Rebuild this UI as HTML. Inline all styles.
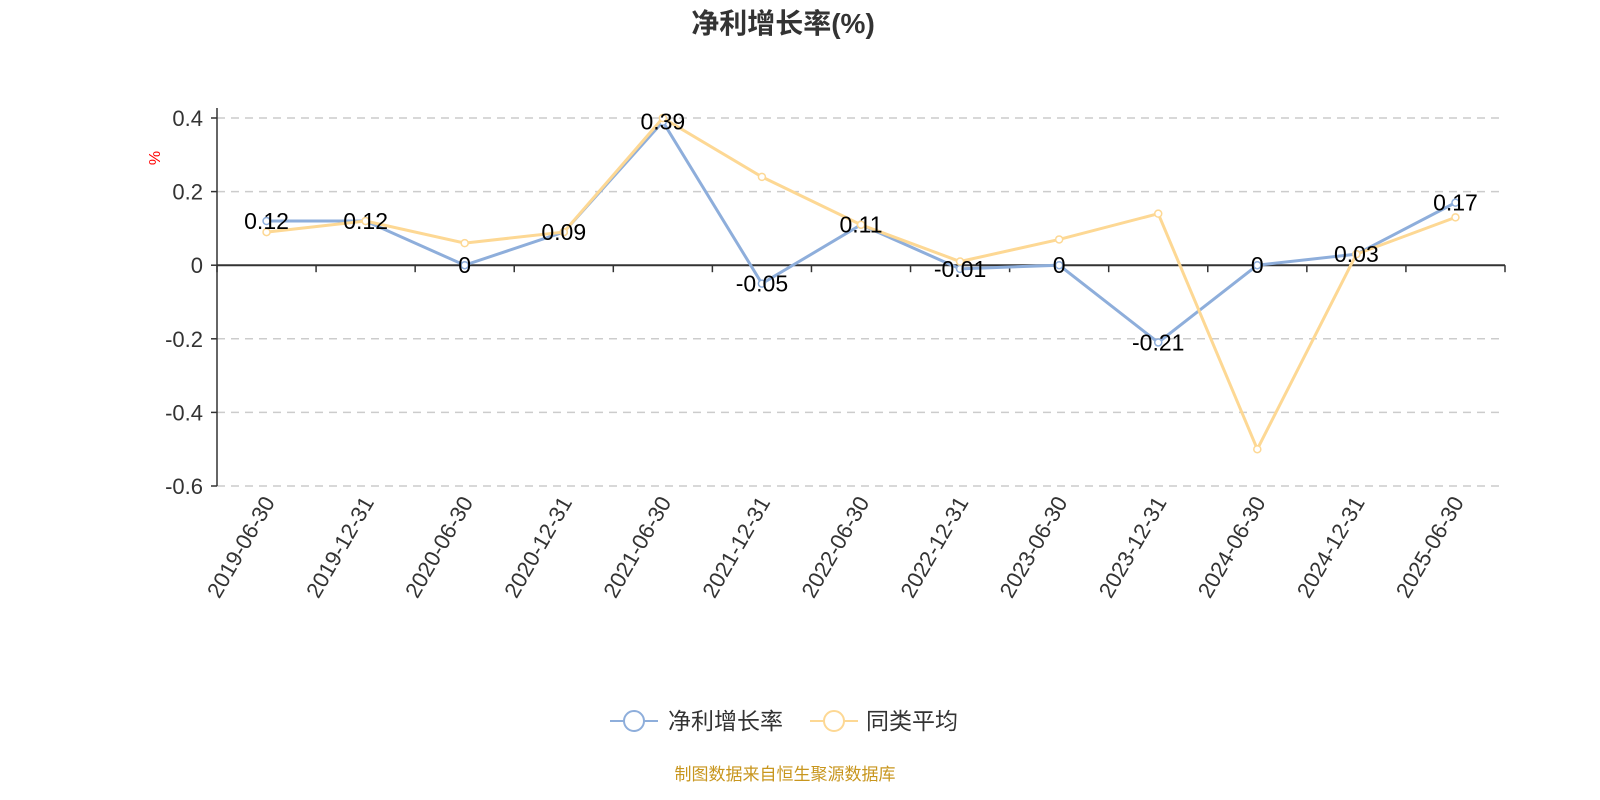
<!DOCTYPE html>
<html><head><meta charset="utf-8"><style>
html,body{margin:0;padding:0;background:#fff;}
svg{display:block;font-family:"Liberation Sans","Noto Sans CJK SC",sans-serif;}
</style></head><body>
<svg id="chart" width="1600" height="800" viewBox="0 0 1600 800" xmlns="http://www.w3.org/2000/svg">
<text x="783" y="33" text-anchor="middle" font-size="28" font-weight="bold" fill="#333">净利增长率(%)</text>
<text x="0" y="0" transform="translate(160,158) rotate(-90)" text-anchor="middle" font-size="16" fill="red">%</text>
<g id="grid"></g><g id="axes"></g><g id="series"></g><g id="labels"></g>
<g>
 <g>
  <line x1="610" y1="721" x2="658" y2="721" stroke="#8eaedb" stroke-width="2"/>
  <circle cx="634" cy="721" r="10" fill="#fff" stroke="#8eaedb" stroke-width="2"/>
  <text x="668" y="729" font-size="23" fill="#333">净利增长率</text>
 </g>
 <g>
  <line x1="810" y1="721" x2="858" y2="721" stroke="#fdd894" stroke-width="2"/>
  <circle cx="834" cy="721" r="10" fill="#fff" stroke="#fdd894" stroke-width="2"/>
  <text x="866" y="729" font-size="23" fill="#333">同类平均</text>
 </g>
</g>
<text x="785" y="780" text-anchor="middle" font-size="17" fill="#c8961e">制图数据来自恒生聚源数据库</text>
</svg>
<script>
const categories=["2019-06-30","2019-12-31","2020-06-30","2020-12-31","2021-06-30","2021-12-31","2022-06-30","2022-12-31","2023-06-30","2023-12-31","2024-06-30","2024-12-31","2025-06-30"];
const netGrowth=[0.12,0.12,0,0.09,0.39,-0.05,0.11,-0.01,0,-0.21,0,0.03,0.17];
const peerAvg=[0.09,0.12,0.06,0.09,0.40,0.24,0.11,0.01,0.07,0.14,-0.50,0.03,0.13];
const yTicks=[0.4,0.2,0,-0.2,-0.4,-0.6];
const NS="http://www.w3.org/2000/svg";
const x0=217,x1=1505,yTop=118,yBot=486,yMax=0.4,yMin=-0.6;
const bw=(x1-x0)/categories.length;
const xs=i=>x0+bw*(i+0.5);
const ys=v=>yTop+(yMax-v)/(yMax-yMin)*(yBot-yTop);
function mk(tag,attrs,parent){const e=document.createElementNS(NS,tag);for(const k in attrs)e.setAttribute(k,attrs[k]);parent.appendChild(e);return e;}
const grid=document.getElementById('grid'),axes=document.getElementById('axes'),ser=document.getElementById('series'),lab=document.getElementById('labels');
yTicks.forEach(t=>{
 const y=ys(t);
 if(t!==0){const l=mk('line',{x1:x0,x2:x1,y1:y,y2:y,stroke:'#ccc','stroke-dasharray':'8,6','stroke-width':1.5},grid);
 
 }
 const tk=mk('line',{x1:x0-6,x2:x0,y1:y,y2:y,stroke:'#333','stroke-width':1.5},axes);
 
 
 const tx=mk('text',{x:x0-14,y:y+8,'text-anchor':'end','font-size':22,fill:'#333'},axes);
 
 
 tx.textContent=String(t);
});
const ya=mk('line',{x1:x0,x2:x0,y1:yTop-10,y2:yBot,stroke:'#333','stroke-width':1.5},axes);


const xa=mk('line',{x1:x0,x2:x1,y1:ys(0),y2:ys(0),stroke:'#333','stroke-width':2},axes);


for(let i=0;i<=categories.length;i++){const x=x0+bw*i;
 const t=mk('line',{x1:x,x2:x,y1:ys(0),y2:ys(0)+7,stroke:'#333','stroke-width':1.5},axes);
 
 }
categories.forEach((c,i)=>{const x=xs(i)+9,y=502;
 const t=mk('text',{x:x,y:y,'text-anchor':'end','font-size':22,fill:'#333',transform:`rotate(-60 ${x} ${y})`},axes);
 
 
 t.textContent=c;});
function drawSeries(vals,color,name){
 const p=mk('polyline',{points:vals.map((v,i)=>xs(i)+','+ys(v)).join(' '),fill:'none',stroke:color,'stroke-width':3},ser);
 
 
 vals.forEach((v,i)=>{const c=mk('circle',{cx:xs(i),cy:ys(v),r:3.5,fill:'#fff',stroke:color,'stroke-width':1.5},ser);
 
 });
}
drawSeries(netGrowth,'#8eaedb','net-growth');
drawSeries(peerAvg,'#fdd894','peer-avg');
netGrowth.forEach((v,i)=>{const t=mk('text',{x:xs(i),y:ys(v)+8,'text-anchor':'middle','font-size':23,fill:'#000'},lab);
 
 
 t.textContent=String(v);});
</script>
</body></html>
